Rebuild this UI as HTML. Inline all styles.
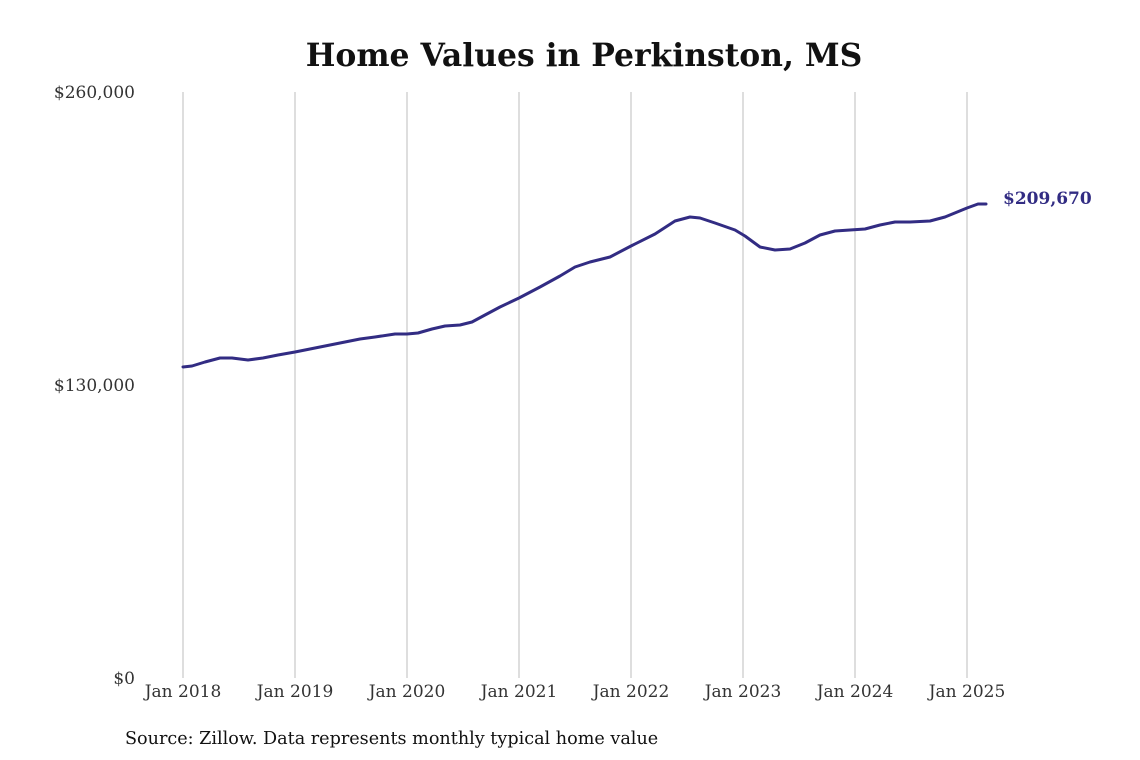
<!DOCTYPE html>
<html><head><meta charset="utf-8"><style>
html,body{margin:0;padding:0;background:#fff;}
svg{display:block;}
</style></head><body>
<svg width="1140" height="760" viewBox="0 0 1140 760" xmlns="http://www.w3.org/2000/svg" font-family="'DejaVu Serif', serif">
<rect width="1140" height="760" fill="#fff"/>
<text x="584" y="66" text-anchor="middle" font-size="31.4" font-weight="bold" fill="#111">Home Values in Perkinston, MS</text>
<g stroke="#bdbdbd" stroke-width="1">
<line x1="183" y1="92" x2="183" y2="678"/>
<line x1="295" y1="92" x2="295" y2="678"/>
<line x1="407" y1="92" x2="407" y2="678"/>
<line x1="519" y1="92" x2="519" y2="678"/>
<line x1="631" y1="92" x2="631" y2="678"/>
<line x1="743" y1="92" x2="743" y2="678"/>
<line x1="855" y1="92" x2="855" y2="678"/>
<line x1="967" y1="92" x2="967" y2="678"/>
</g>
<g font-size="17" fill="#333" text-anchor="end">
<text x="135" y="98">$260,000</text>
<text x="135" y="391">$130,000</text>
<text x="135" y="684">$0</text>
</g>
<g font-size="17" fill="#333" text-anchor="middle">
<text x="183" y="697">Jan 2018</text>
<text x="295" y="697">Jan 2019</text>
<text x="407" y="697">Jan 2020</text>
<text x="519" y="697">Jan 2021</text>
<text x="631" y="697">Jan 2022</text>
<text x="743" y="697">Jan 2023</text>
<text x="855" y="697">Jan 2024</text>
<text x="967" y="697">Jan 2025</text>
</g>
<polyline fill="none" stroke="#322c83" stroke-width="3" stroke-linejoin="round" stroke-linecap="round" shape-rendering="geometricPrecision"
points="183,367 192,366 205,362 220,358 232,358 248,360 263,358 278,355 295,352 310,349 325,346 340,343 360,339 375,337 395,334 407,334 418,333 432,329 445,326 460,325 472,322 485,315 500,307 519,298 540,287 560,276 575,267 590,262 610,257 631,246 655,234 675,221 690,217 700,218 715,223 735,230 745,236 760,247 775,250 790,249 805,243 820,235 835,231 850,230 865,229 880,225 895,222 910,222 930,221 945,217 967,208 978,204 986,204"/>
<text x="1003" y="204" font-size="17" font-weight="bold" fill="#322c83">$209,670</text>
<text x="125" y="744" font-size="17.6" fill="#111">Source: Zillow. Data represents monthly typical home value</text>
</svg>
</body></html>
